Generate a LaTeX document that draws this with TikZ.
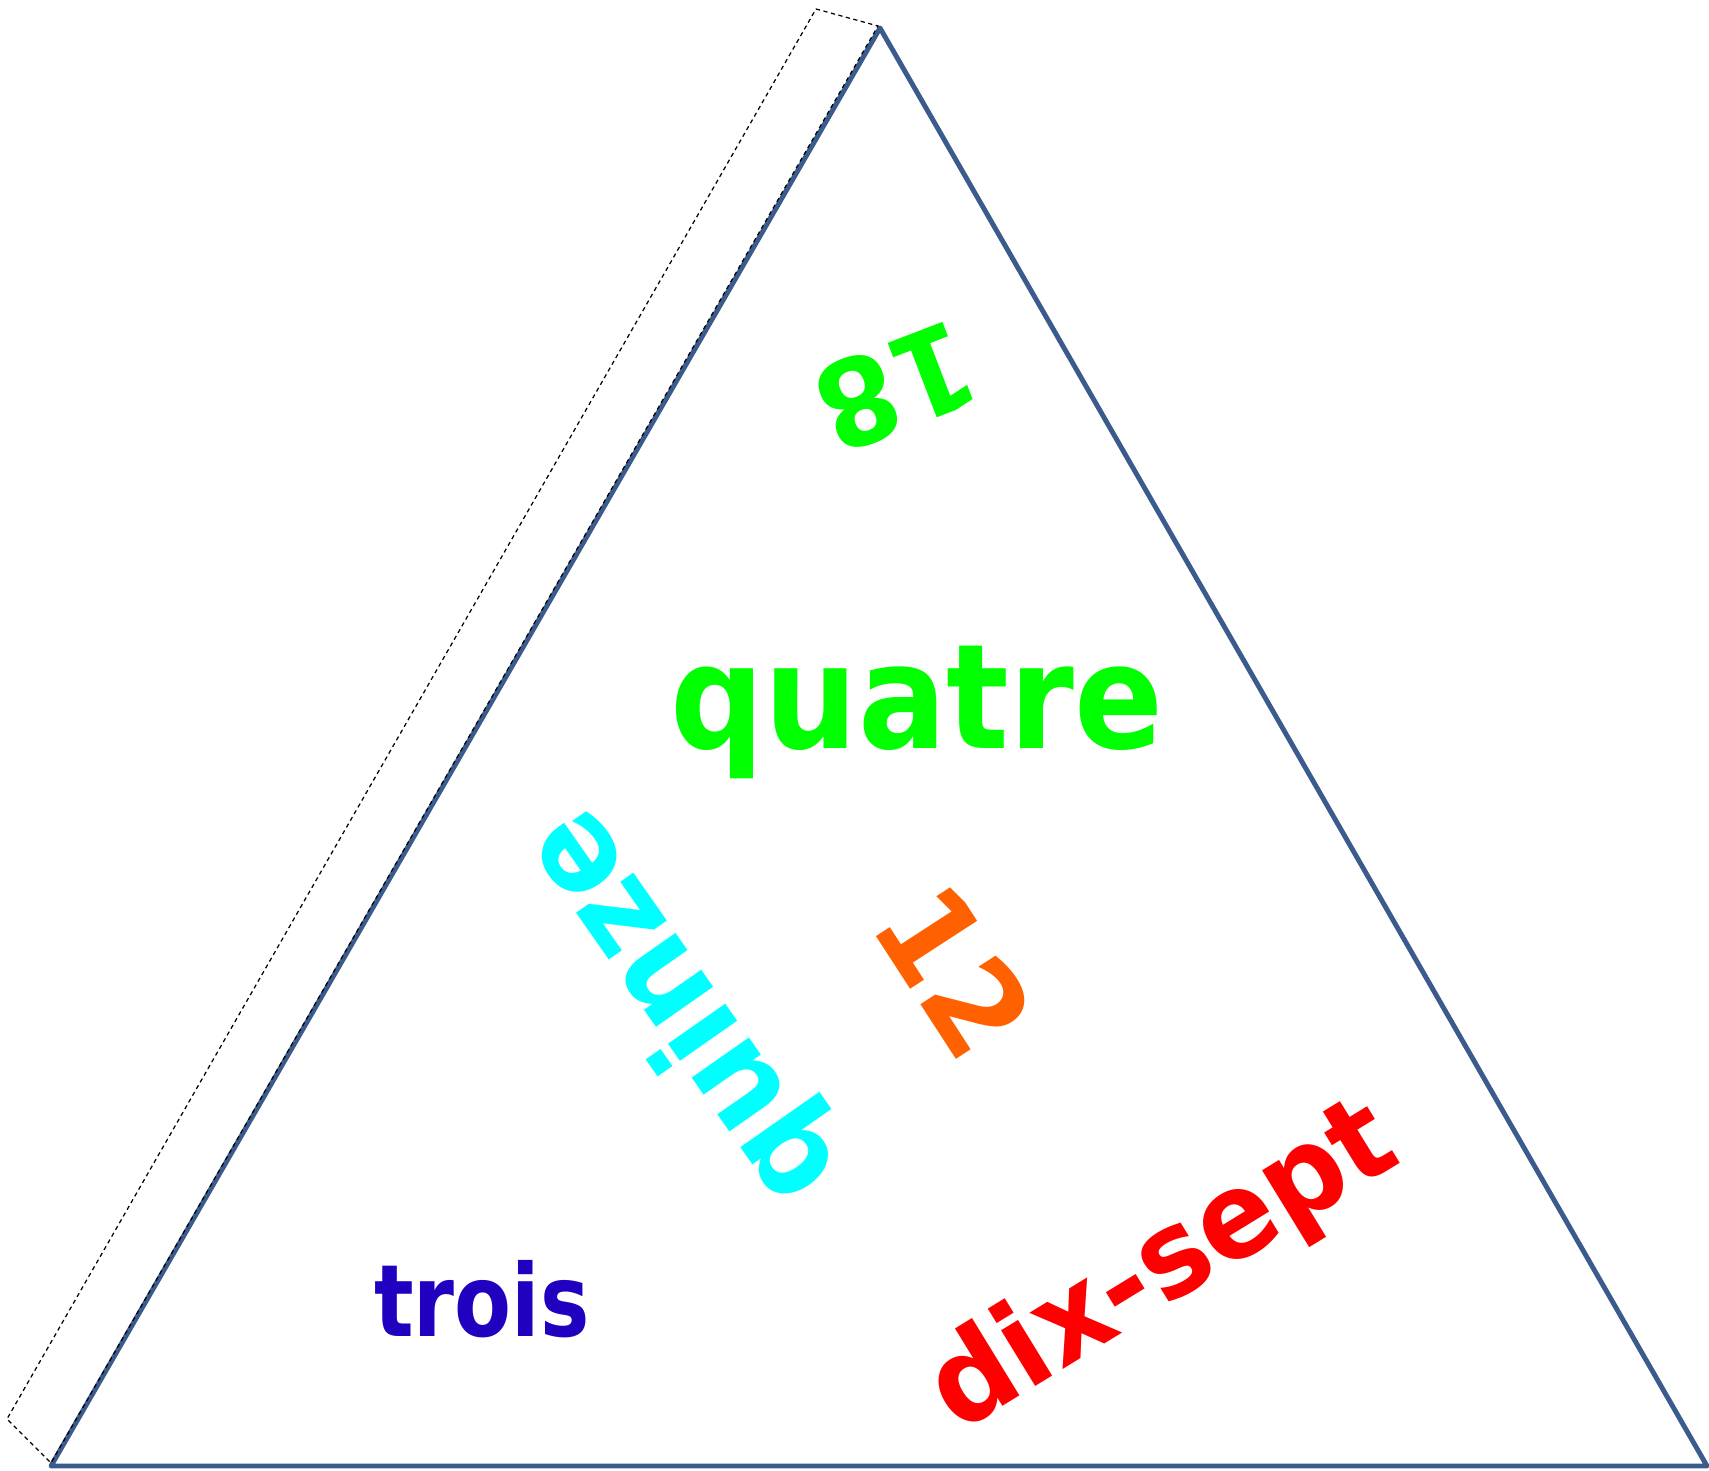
\documentclass[tikz,border=0pt]{standalone}
\usepackage{fontspec}
\newfontfamily\condfont{DejaVu Sans Condensed Bold}
\usepackage{tikz}
\definecolor{edgeblue}{RGB}{58,91,140}
\definecolor{lblgreen}{RGB}{0,255,0}
\definecolor{lblcyan}{RGB}{0,255,255}
\definecolor{lblorange}{RGB}{255,96,0}
\definecolor{lblred}{RGB}{255,0,0}
\definecolor{lblblue}{RGB}{34,0,192}
\tikzset{word/.style={inner sep=0pt, font=\condfont\fontsize{#1}{#1}\selectfont}}

\begin{document}
\begin{tikzpicture}[x=0.1mm, y=0.1mm]
	\useasboundingbox (0,0) rectangle (1709,1471);
	\coordinate (top) at (880,1443); \coordinate (bl) at (51,5); \coordinate (br) at (1707,5);
	\coordinate (ba) at (816,1462); \coordinate (bb) at (878,1445); \coordinate (bc) at (51,8); \coordinate (bd) at (7,52);
	\draw[edgeblue, line width=1.4pt, line join=round] (top) -- (br) -- (bl) -- cycle;
	\draw[black, line width=0.35pt, dash pattern=on 1.2pt off 1pt] (ba) -- (bb) -- (bc) -- (bd) -- cycle;
	\node[word=34pt, lblgreen, rotate=201, xscale=1.07] (n18) at (896,1084) {18};
	\node[word=41.5pt, lblgreen, anchor=base] (quatre) at (917,722) {quatre};
	\node[word=36.4pt, lblcyan, rotate=125, xscale=1.04] (quinze) at (684,465) {quinze};
	\node[word=36.4pt, lblorange, rotate=-57, xscale=1.07] (n12) at (955,500) {12};
	\node[word=28.5pt, lblblue, anchor=base, xscale=0.92] (trois) at (482,134) {trois};
	\node[word=34pt, lblred, rotate=31.5, xscale=1.06] (dixsept) at (1164,202) {dix-sept};
\end{tikzpicture}
\end{document}
